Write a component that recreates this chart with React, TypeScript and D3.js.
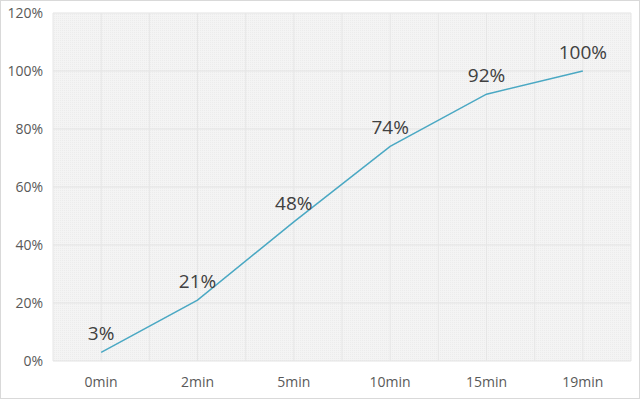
import React from 'react'
import * as d3 from 'd3'

// categories and values
const categories = ['0min', '2min', '5min', '10min', '15min', '19min']
const values = [3, 21, 48, 74, 92, 100]
const yTicks = [0, 20, 40, 60, 80, 100, 120]

const width = 640
const height = 399
const marginTop = 13
const marginBottom = 38
const marginLeft = 53
const marginRight = 9

const fontFamily = '"Open Sans", "Noto Sans", sans-serif'

export default function App() {
    const x = d3.scaleBand()
        .domain(categories)
        .range([marginLeft, width - marginRight])

    const y = d3.scaleLinear()
        .domain([0, 120])
        .range([height - marginBottom, marginTop])

    const cx = (c: string) => (x(c) ?? 0) + x.bandwidth() / 2

    const line = d3.line<number>()
        .x((d, i) => cx(categories[i]))
        .y(d => y(d))

    // vertical grid at band edges and centres
    const vGrid: number[] = []
    categories.forEach(c => {
        vGrid.push(x(c) ?? 0)
        vGrid.push(cx(c))
    })
    vGrid.push(width - marginRight)

    const plotW = width - marginLeft - marginRight
    const plotH = y(0) - y(120)

    return (
        <svg width={width} height={height}
            style={{ position: 'absolute', left: 0, top: 0, background: '#fff' }}>
            <defs>
                <pattern id="hatch" width="2" height="2" patternUnits="userSpaceOnUse">
                    <rect width="2" height="2" fill="#f4f4f4" />
                    <rect width="1" height="1" fill="#ececec" />
                </pattern>
            </defs>
            <rect x={0.5} y={0.5} width={width - 1} height={height - 1} fill="#fff" stroke="#d9d9d9" />

            <rect x={marginLeft} y={y(120)} width={plotW} height={plotH} fill="url(#hatch)" />

            {yTicks.map(t => (
                <line key={'h' + t} x1={marginLeft} x2={width - marginRight}
                    y1={y(t)} y2={y(t)} stroke="#e3e3e3" strokeWidth={1} />
            ))}
            {vGrid.map((v, i) => (
                <line key={'v' + i} x1={v} x2={v} y1={y(120)} y2={y(0)}
                    stroke="#e6e6e6" strokeWidth={1} />
            ))}

            {yTicks.map(t => (
                <text key={'yl' + t} x={43} y={y(t)} dy="0.36em" textAnchor="end"
                    fontFamily={fontFamily} fontSize={14} fill="#595959">{t}%</text>
            ))}

            {categories.map(c => (
                <text key={'xl' + c} x={cx(c)} y={387} textAnchor="middle"
                    fontFamily={fontFamily} fontSize={14} fill="#595959">{c}</text>
            ))}

            <path d={line(values) ?? ''} fill="none" stroke="#4aa8c3" strokeWidth={1.5} />

            {values.map((v, i) => (
                <text key={'dl' + i} x={cx(categories[i])} y={y(v) - 12} textAnchor="middle"
                    fontFamily={fontFamily} fontSize={19} fill="#404040">{v}%</text>
            ))}
        </svg>
    )
}
